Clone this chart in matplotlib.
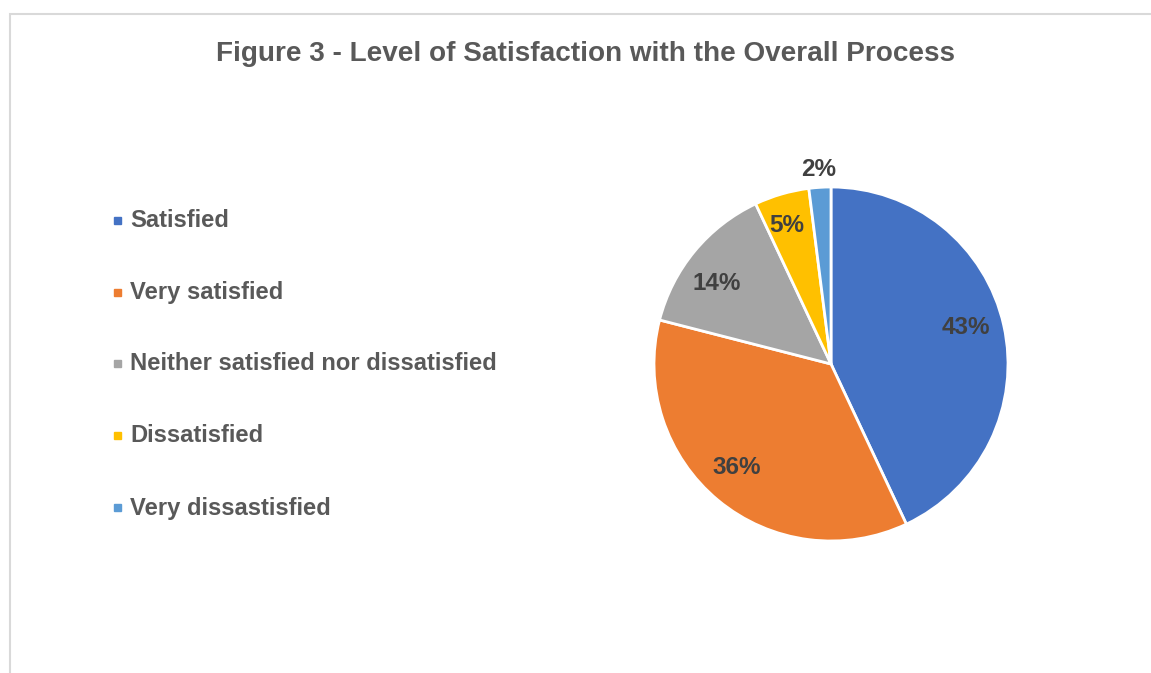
import matplotlib.pyplot as plt
from matplotlib.patches import Rectangle
import numpy as np

categories = ['Satisfied', 'Very satisfied', 'Neither satisfied nor dissatisfied',
              'Dissatisfied', 'Very dissastisfied']
shares = [43, 36, 14, 5, 2]
colors = ['#4472C4', '#ED7D31', '#A5A5A5', '#FFC000', '#5B9BD5']

W, H = 1151, 673
plt.rcParams['font.family'] = ['Liberation Sans', 'DejaVu Sans']
fig = plt.figure(figsize=(W / 100, H / 100), dpi=100)

# chart frame (cut off at right and bottom like the screenshot)
fig.patches.append(Rectangle((10 / W, -0.1), 1.2, (H - 14) / H + 0.1,
                             transform=fig.transFigure, fill=False,
                             edgecolor='#d9d9d9', linewidth=1.5))

fig.text(586 / W, 1 - 54 / H, 'Figure 3 - Level of Satisfaction with the Overall Process',
         ha='center', va='center', fontsize=20.1, fontweight='bold', color='#595959')

# pie
cx, cy, r = 831, 364, 177
ax = fig.add_axes([(cx - r) / W, (H - cy - r) / H, 2 * r / W, 2 * r / H])
wedges, _ = ax.pie(shares, colors=colors, startangle=90, counterclock=False,
                   radius=1, wedgeprops=dict(edgecolor='white', linewidth=2))
ax.set_xlim(-1, 1)
ax.set_ylim(-1, 1)
ax.set_aspect('equal')
ax.axis('off')

# Excel's "best fit" labels are nudged a bit off the slice middle
shift = [2.5, -2.8, 4.4, 1.4, 0.0]
dist = [0.79, 0.79, 0.79, 0.82, 1.1]
for w, v, s, d in zip(wedges, shares, shift, dist):
    mid = np.deg2rad((w.theta1 + w.theta2) / 2 + s)
    ax.text(d * np.cos(mid), d * np.sin(mid), f'{v}%', ha='center', va='center',
            fontsize=17.5, fontweight='bold', color='#404040')

# legend
ys = [221, 293, 364, 436, 508]
for lab, col, y in zip(categories, colors, ys):
    fig.patches.append(Rectangle((114 / W, 1 - (y + 3) / H), 7 / W, 7 / H,
                                 transform=fig.transFigure, color=col))
    fig.text(130 / W, 1 - y / H, lab, ha='left', va='center', fontsize=17.1,
             fontweight='bold', color='#595959')

fig.savefig('out.png', dpi=100)
